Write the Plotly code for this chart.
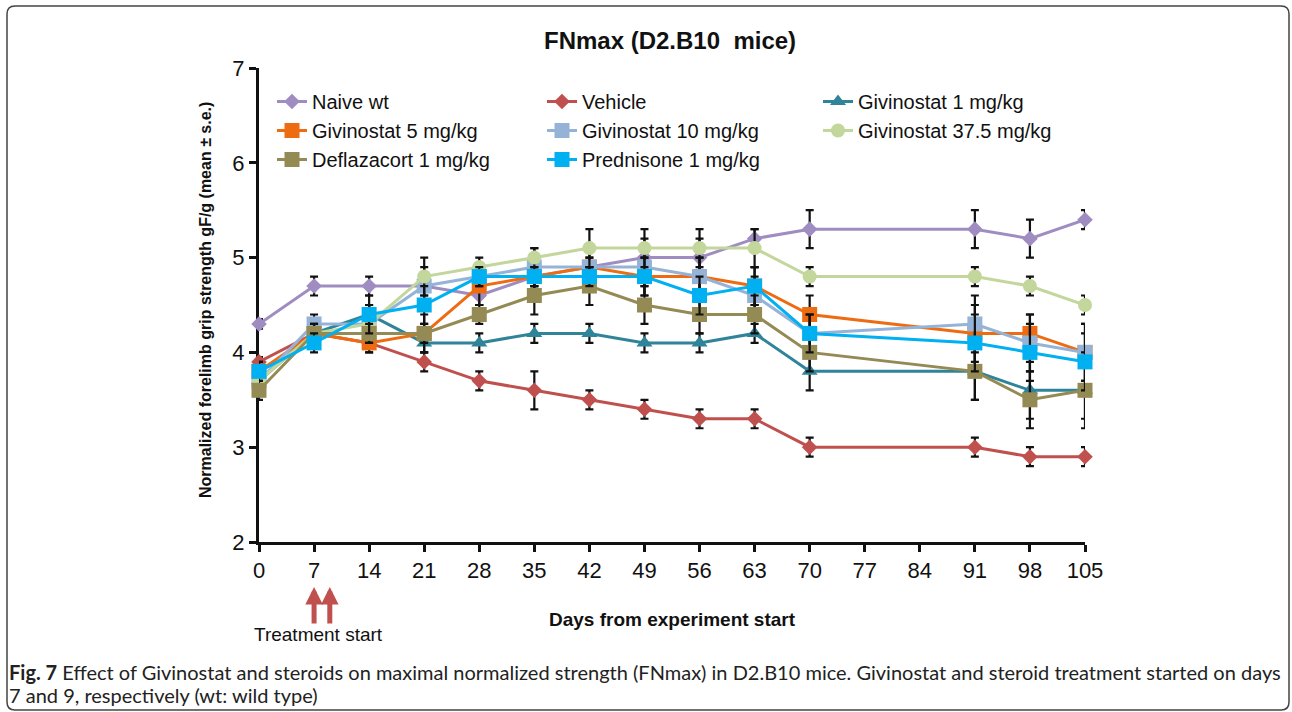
import plotly.graph_objects as go

days = [0, 7, 14, 21, 28, 35, 42, 49, 56, 63, 70, 91, 98, 105]

naive = [4.3, 4.7, 4.7, 4.7, 4.6, 4.8, 4.9, 5.0, 5.0, 5.2, 5.3, 5.3, 5.2, 5.4]
vehicle = [3.9, 4.2, 4.1, 3.9, 3.7, 3.6, 3.5, 3.4, 3.3, 3.3, 3.0, 3.0, 2.9, 2.9]
giv1 = [3.7, 4.2, 4.4, 4.1, 4.1, 4.2, 4.2, 4.1, 4.1, 4.2, 3.8, 3.8, 3.6, 3.6]
giv5 = [3.8, 4.2, 4.1, 4.2, 4.7, 4.8, 4.9, 4.8, 4.8, 4.7, 4.4, 4.2, 4.2, 4.0]
giv10 = [3.7, 4.3, 4.3, 4.7, 4.8, 4.9, 4.9, 4.9, 4.8, 4.6, 4.2, 4.3, 4.1, 4.0]
giv37 = [3.7, 4.2, 4.3, 4.8, 4.9, 5.0, 5.1, 5.1, 5.1, 5.1, 4.8, 4.8, 4.7, 4.5]
defla = [3.6, 4.2, 4.2, 4.2, 4.4, 4.6, 4.7, 4.5, 4.4, 4.4, 4.0, 3.8, 3.5, 3.6]
pred = [3.8, 4.1, 4.4, 4.5, 4.8, 4.8, 4.8, 4.8, 4.6, 4.7, 4.2, 4.1, 4.0, 3.9]

naive_err = [0.05, 0.1, 0.1, 0.1, 0.1, 0.1, 0.1, 0.2, 0.2, 0.1, 0.2, 0.2, 0.2, 0.1]
vehicle_err = [0.05, 0.1, 0.1, 0.1, 0.1, 0.2, 0.1, 0.1, 0.1, 0.1, 0.1, 0.1, 0.1, 0.1]
giv1_err = [0.1, 0.1, 0.1, 0.1, 0.1, 0.1, 0.1, 0.1, 0.1, 0.1, 0.2, 0.3, 0.3, 0.3]
giv5_err = [0.1, 0.1, 0.1, 0.2, 0.2, 0.2, 0.1, 0.2, 0.2, 0.2, 0.2, 0.3, 0.2, 0.3]
giv10_err = [0.1, 0.1, 0.2, 0.2, 0.1, 0.2, 0.2, 0.2, 0.2, 0.2, 0.2, 0.3, 0.3, 0.3]
giv37_err = [0.1, 0.1, 0.1, 0.2, 0.1, 0.1, 0.2, 0.2, 0.2, 0.2, 0.1, 0.1, 0.1, 0.1]
defla_err = [0.1, 0.1, 0.1, 0.1, 0.1, 0.2, 0.2, 0.2, 0.2, 0.2, 0.2, 0.3, 0.3, 0.4]
pred_err = [0.1, 0.1, 0.2, 0.2, 0.1, 0.1, 0.1, 0.2, 0.2, 0.2, 0.2, 0.3, 0.3, 0.3]

x_ticks = [0, 7, 14, 21, 28, 35, 42, 49, 56, 63, 70, 77, 84, 91, 98, 105]
y_ticks = [2, 3, 4, 5, 6, 7]
treatment_days = [7, 9]

series = [
    ("Naive wt", naive, naive_err, "#9f8dc2", "diamond", 12, "legend"),
    ("Vehicle", vehicle, vehicle_err, "#c0504d", "diamond", 12, "legend2"),
    ("Givinostat 1 mg/kg", giv1, giv1_err, "#2f849a", "triangle-up", 14, "legend3"),
    ("Givinostat 5 mg/kg", giv5, giv5_err, "#ed6c12", "square", 15, "legend"),
    ("Givinostat 10 mg/kg", giv10, giv10_err, "#95b3d7", "square", 15, "legend2"),
    ("Givinostat 37.5 mg/kg", giv37, giv37_err, "#c3d69b", "circle", 14, "legend3"),
    ("Deflazacort 1 mg/kg", defla, defla_err, "#948a54", "square", 15, "legend"),
    ("Prednisone 1 mg/kg", pred, pred_err, "#00b0f0", "square", 15, "legend2"),
]

fig = go.Figure()
for name, vals, err, color, sym, size, leg in series:
    fig.add_trace(go.Scatter(
        x=days, y=vals, name=name, mode="lines+markers",
        line=dict(color=color, width=3),
        marker=dict(color=color, symbol=sym, size=size),
        error_y=dict(type="data", array=err, color="#111111", thickness=2.2, width=4),
        cliponaxis=False, legend=leg,
    ))

L, R, T, B = 259, 207, 68, 170
W, H = 1292, 712
pw, ph = W - L - R, H - T - B


def px_x(x):
    return (x - L) / pw


def px_y(y):
    return (H - B - y) / ph


legend_font = dict(family="Arial", size=20, color="#111111")
common_leg = dict(font=legend_font, bgcolor="rgba(0,0,0,0)", yanchor="top",
                  xanchor="left", tracegroupgap=0, itemwidth=30)


def label(text, x, y, size, family="Arial", color="#111111", xanchor="center", angle=0):
    return dict(text=text, x=px_x(x), y=px_y(y), xref="paper", yref="paper",
                xanchor=xanchor, yanchor="middle", textangle=angle, showarrow=False,
                font=dict(family=family, size=size, color=color))


annotations = [
    label("<b>FNmax (D2.B10  mice)</b>", 670, 40, 24),
    label("<b>Normalized forelimb grip strength gF/g (mean ± s.e.)</b>", 205, 300, 16, angle=-90),
    label("<b>Days from experiment start</b>", 672, 619, 19),
    label("Treatment start", 318, 634, 19),
    label("<b>Fig. 7</b> Effect of Givinostat and steroids on maximal normalized strength (FNmax) in D2.B10 mice. Givinostat and steroid treatment started on days",
          7, 672, 20, family="Lato", color="#222222", xanchor="left"),
    label("7 and 9, respectively (wt: wild type)", 7, 695, 20, family="Lato",
          color="#222222", xanchor="left"),
]
for d in treatment_days:
    annotations.append(dict(
        x=d, y=px_y(587), xref="x", yref="paper", ax=0, ay=38, axref="pixel", ayref="pixel",
        text="", showarrow=True, arrowhead=2, arrowsize=0.7, arrowwidth=5, arrowcolor="#c0504d",
    ))

# rounded border around the figure
x0, x1 = px_x(7), px_x(1289)
y0, y1 = px_y(710), px_y(6)
rx, ry = 8 / pw, 8 / ph
path = (f"M {x0+rx},{y1} L {x1-rx},{y1} Q {x1},{y1} {x1},{y1-ry} "
        f"L {x1},{y0+ry} Q {x1},{y0} {x1-rx},{y0} L {x0+rx},{y0} "
        f"Q {x0},{y0} {x0},{y0+ry} L {x0},{y1-ry} Q {x0},{y1} {x0+rx},{y1} Z")

fig.update_layout(
    width=W, height=H,
    margin=dict(l=L, r=R, t=T, b=B),
    paper_bgcolor="white", plot_bgcolor="white",
    showlegend=True,
    legend=dict(x=px_x(272), y=px_y(82), **common_leg),
    legend2=dict(x=px_x(542), y=px_y(82), **common_leg),
    legend3=dict(x=px_x(818), y=px_y(82), **common_leg),
    xaxis=dict(range=[0, 105], tickvals=x_ticks, ticks="outside", ticklen=7, tickwidth=3,
               tickcolor="#111111", showline=True, linecolor="#111111", linewidth=3,
               showgrid=False, zeroline=False, layer="below traces",
               tickfont=dict(family="Arial", size=22, color="#111111")),
    yaxis=dict(range=[2, 7], tickvals=y_ticks, ticks="outside", ticklen=7, tickwidth=3,
               tickcolor="#111111", showline=True, linecolor="#111111", linewidth=3,
               showgrid=False, zeroline=False, layer="below traces",
               tickfont=dict(family="Arial", size=22, color="#111111")),
    annotations=annotations,
    shapes=[dict(type="path", path=path, xref="paper", yref="paper",
                 line=dict(color="#444444", width=1.5))],
)

fig.write_html("out.html", config={"displayModeBar": False},
               post_script="document.body.style.margin='0';document.body.style.overflow='hidden';")
